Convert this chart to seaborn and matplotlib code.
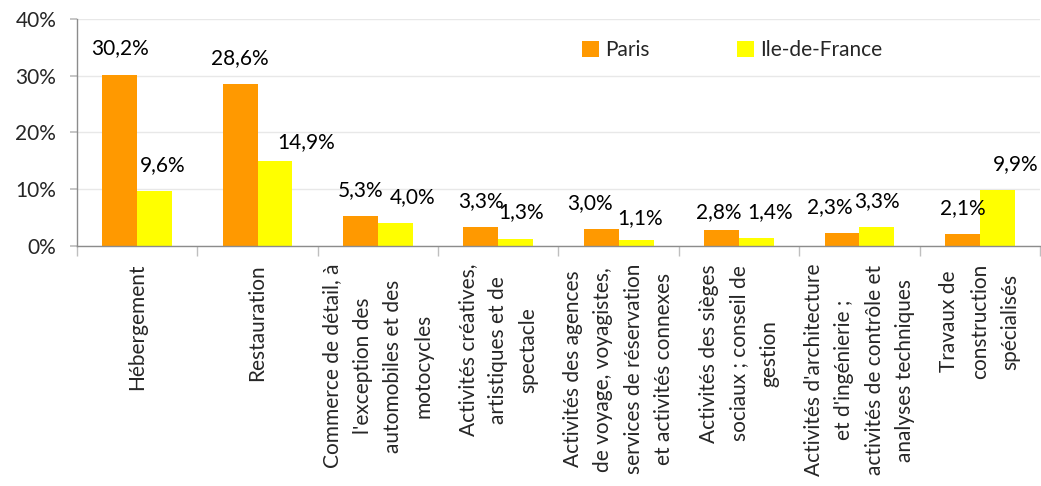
import seaborn as sns
import matplotlib.pyplot as plt
import pandas as pd
import numpy as np

# Data
categories = [
    "Hébergement",
    "Restauration",
    "Commerce de détail, à\nl'exception des\nautomobiles et des\nmotocycles",
    "Activités créatives,\nartistiques et de\nspectacle",
    "Activités des agences\nde voyage, voyagistes,\nservices de réservation\net activités connexes",
    "Activités des sièges\nsociaux ; conseil de\ngestion",
    "Activités d'architecture\net d'ingénierie ;\nactivités de contrôle et\nanalyses techniques",
    "Travaux de\nconstruction\nspécialisés",
]
paris = [30.2, 28.6, 5.3, 3.3, 3.0, 2.8, 2.3, 2.1]
idf = [9.6, 14.9, 4.0, 1.3, 1.1, 1.4, 3.3, 9.9]
series = ["Paris", "Ile-de-France"]
yticks = [0, 10, 20, 30, 40]

# label nudges in pixels (as placed in the original chart)
label_dx = [[0, 0, 0, 0, -11, -3, -12, 0], [8, 31, 17, 5, 4, 14, 0, 18]]
label_dy = [[0, 0, 0, 0, 0, -8, 0, 0], [0, -7, 0, 0, -4, 0, 0, 0]]

df = pd.DataFrame({
    "cat": categories * 2,
    "val": paris + idf,
    "serie": [series[0]] * len(categories) + [series[1]] * len(categories),
})

sns.set_theme(style="white")
plt.rcParams["font.family"] = ["Lato", "DejaVu Sans"]
FS = 15

fig = plt.figure(figsize=(10.41, 4.86), dpi=100)
ax = fig.add_axes([0.074, 0.494, 0.925, 0.467])

sns.barplot(data=df, x="cat", y="val", hue="serie", palette=["#FF9900", "#FFFF00"],
            width=0.58, ax=ax, saturation=1, edgecolor="none")

for k, cont in enumerate(ax.containers):
    for i, (bar, v) in enumerate(zip(cont, cont.datavalues)):
        ax.annotate(f"{v:.1f}%".replace(".", ","),
                    (bar.get_x() + bar.get_width() / 2, bar.get_height()),
                    xytext=(label_dx[k][i], 16 + label_dy[k][i]),
                    textcoords="offset pixels", ha="center", va="bottom",
                    fontsize=FS, color="black")

ax.set_xlim(-0.5, len(categories) - 0.5)
ax.set_ylim(0, 40)
ax.set_yticks(yticks)
ax.set_yticklabels([f"{t}%" for t in yticks], fontsize=FS)
ax.grid(axis="y", color="#E8E8E8", linewidth=1)
ax.set_axisbelow(True)
ax.set_xlabel("")
ax.set_ylabel("")

ax.set_xticks(range(len(categories)))
ax.set_xticklabels(categories, rotation=90, fontsize=FS, ha="center", va="top",
                   multialignment="center", linespacing=1.65)
ax.set_xticks(np.arange(-0.5, len(categories)), minor=True)
ax.tick_params(axis="x", which="major", length=0, pad=13)
ax.tick_params(axis="x", which="minor", length=7, color="#BFBFBF", direction="out", bottom=True)
ax.tick_params(axis="y", length=5, color="#BFBFBF", direction="out", left=True, pad=10)

for s in ["top", "right"]:
    ax.spines[s].set_visible(False)
for s in ["left", "bottom"]:
    ax.spines[s].set_color("#8C8C8C")
    ax.spines[s].set_linewidth(1)

ax.legend(loc="upper left", bbox_to_anchor=(0.505, 0.99), ncol=2, frameon=False,
          fontsize=FS, handlelength=0.8, handleheight=0.8, handletextpad=0.3,
          columnspacing=4.2)

fig.savefig("out.png", dpi=100)
